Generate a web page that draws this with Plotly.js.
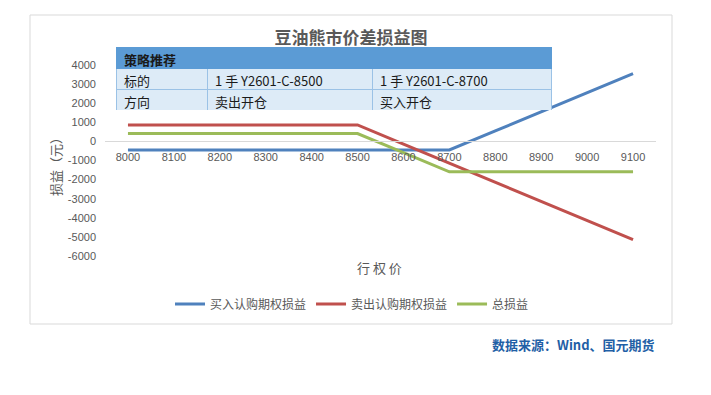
<!DOCTYPE html>
<html><head><meta charset="utf-8">
<script src="https://cdn.plot.ly/plotly-3.0.1.min.js"></script>
<style>html,body{margin:0;padding:0;background:#fff}#chart{width:711px;height:395px}</style>
</head><body><div id="chart"></div>
<script>
const strikes = ['8000','8100','8200','8300','8400','8500','8600','8700','8800','8900','9000','9100'];
const buyCall = [-450,-450,-450,-450,-450,-450,-450,-450,550,1550,2550,3550];
const sellCall = [860,860,860,860,860,860,-140,-1140,-2140,-3140,-4140,-5140];
const total = [410,410,410,410,410,410,-590,-1590,-1590,-1590,-1590,-1590];
const seriesNames = ['买入认购期权损益','卖出认购期权损益','总损益'];
const yTicks = [4000,3000,2000,1000,0,-1000,-2000,-3000,-4000,-5000,-6000];
const tableHeader = ['策略推荐','',''];
const tableCol1 = ['标的','方向'];
const tableCol2 = ['1 手 Y2601-C-8500','卖出开仓'];
const tableCol3 = ['1 手 Y2601-C-8700','买入开仓'];

const W = 711, H = 395;
const px = v => v / W, py = v => 1 - v / H;
const yMin = -6000, yMax = 4000;
const yDom = [py(256), py(65)];
const xAxisPos = yDom[0] + (0 - yMin) / (yMax - yMin) * (yDom[1] - yDom[0]);
const numFont = 'Liberation Sans, Noto Sans CJK SC, sans-serif';
const cjkFont = 'Noto Sans CJK SC, sans-serif';

const colors = ['#4F81BD','#C0504D','#9BBB59'];
const ys = [buyCall, sellCall, total];
const traces = ys.map((y, i) => ({
  type: 'scatter', mode: 'lines', x: strikes, y: y, name: seriesNames[i],
  line: {color: colors[i], width: 3}, hoverinfo: 'skip'
}));
traces.push({
  type: 'table',
  domain: {x: [px(116), px(551)], y: [py(111), py(47)]},
  columnwidth: [91, 165, 179],
  header: {
    values: tableHeader, align: 'left', height: 21,
    fill: {color: '#5B9BD5'}, line: {color: '#5B9BD5', width: 1},
    font: {family: cjkFont, size: 13, color: '#1a1a1a', weight: 'bold'}
  },
  cells: {
    values: [tableCol1, tableCol2, tableCol3], align: 'left', height: 21.5,
    fill: {color: '#DDEBF7'}, line: {color: '#9BC2E6', width: 1},
    font: {family: cjkFont, size: 13, color: '#1a1a1a'}
  }
});

const layout = {
  width: W, height: H, margin: {l: 0, r: 0, t: 0, b: 0},
  paper_bgcolor: '#fff', plot_bgcolor: 'rgba(0,0,0,0)',
  showlegend: true,
  title: {text: '<b>豆油熊市价差损益图</b>', x: px(351), xanchor: 'center', y: py(38), yanchor: 'middle',
          xref: 'paper', yref: 'container', font: {family: cjkFont, size: 17, color: '#595959'}},
  xaxis: {
    type: 'category', domain: [px(105), px(656)], range: [-0.5, 11.5],
    anchor: 'free', position: xAxisPos, showgrid: false, zeroline: false,
    showline: true, linecolor: '#D9D9D9', linewidth: 1, ticks: '',
    ticklabelstandoff: 5,
    tickfont: {family: numFont, size: 11, color: '#595959'}, automargin: false, fixedrange: true
  },
  yaxis: {
    domain: yDom, range: [yMin, yMax], tickvals: yTicks, ticktext: yTicks.map(String),
    showgrid: false, zeroline: false, showline: false, ticks: '',
    ticklabelstandoff: 8,
    tickfont: {family: numFont, size: 11, color: '#595959'}, automargin: false, fixedrange: true
  },
  legend: {orientation: 'h', x: px(352), xanchor: 'center', y: py(304), yanchor: 'middle',
           font: {family: cjkFont, size: 12, color: '#595959'}, itemwidth: 30, bgcolor: 'rgba(0,0,0,0)'},
  shapes: [{type: 'rect', xref: 'paper', yref: 'paper', x0: px(30), x1: px(672), y0: py(324), y1: py(15),
            line: {color: '#D9D9D9', width: 1}, layer: 'below'}],
  annotations: [
    {text: '损益（元）', textangle: -90, xref: 'paper', yref: 'paper', x: px(55), y: py(164),
     xanchor: 'center', yanchor: 'middle',
     showarrow: false, font: {family: cjkFont, size: 13, color: '#595959'}},
    {text: '行 权 价', xref: 'paper', yref: 'paper', x: px(380), y: py(267),
     xanchor: 'center', yanchor: 'middle',
     showarrow: false, font: {family: cjkFont, size: 13, color: '#595959'}},
    {text: '<b>数据来源：Wind、国元期货</b>', xref: 'paper', yref: 'paper', x: px(657), xanchor: 'right',
     y: py(344), yanchor: 'middle', showarrow: false, font: {family: cjkFont, size: 13, color: '#1F5FA6'}}
  ]
};
Plotly.newPlot('chart', traces, layout, {staticPlot: true, displayModeBar: false});
</script></body></html>
